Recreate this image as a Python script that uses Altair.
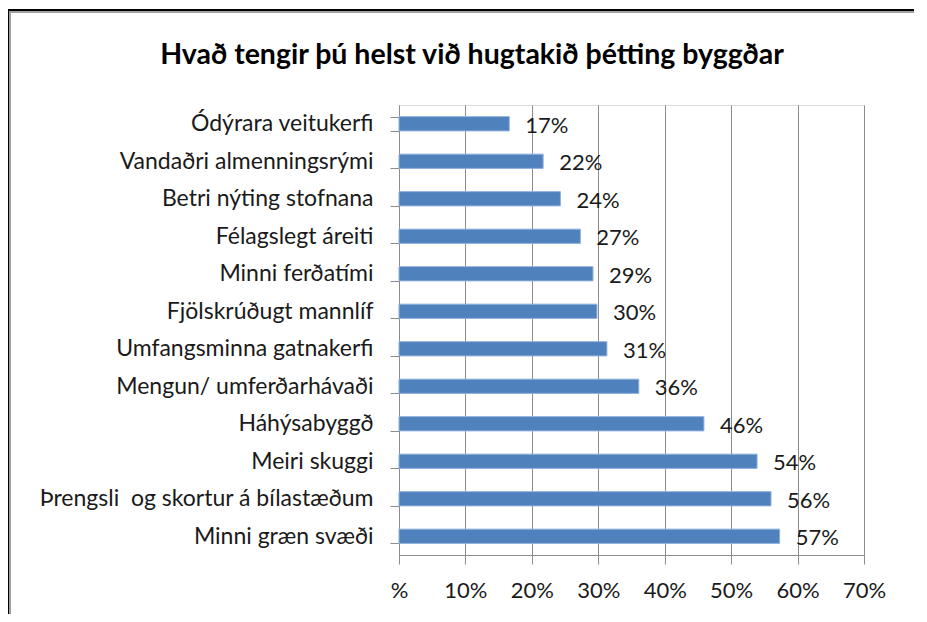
import altair as alt
import pandas as pd

categories = [
    "Ódýrara veitukerfi",
    "Vandaðri almenningsrými",
    "Betri nýting stofnana",
    "Félagslegt áreiti",
    "Minni ferðatími",
    "Fjölskrúðugt mannlíf",
    "Umfangsminna gatnakerfi",
    "Mengun/ umferðarhávaði",
    "Háhýsabyggð",
    "Meiri skuggi",
    "Þrengsli\u00a0 og skortur á bílastæðum",
    "Minni græn svæði",
]
values = [16.6, 21.7, 24.3, 27.3, 29.2, 29.8, 31.3, 36.1, 45.9, 53.9, 56.0, 57.3]
value_labels = ["17%", "22%", "24%", "27%", "29%", "30%", "31%", "36%", "46%", "54%", "56%", "57%"]
x_ticks = [0, 10, 20, 30, 40, 50, 60, 70]
title_text = "Hvað tengir þú helst við hugtakið þétting byggðar"

df = pd.DataFrame({"cat": categories, "val": values, "lbl": value_labels})

FONT = "Lato"
W, H = 465, 450

y_enc = alt.Y(
    "cat:N",
    sort=categories,
    title=None,
    scale=alt.Scale(paddingInner=0.62, paddingOuter=0.31),
    axis=alt.Axis(
        tickBand="extent",
        tickSize=9,
        tickColor="#8c8c8c",
        domainColor="#8c8c8c",
        labelFont=FONT,
        labelFontSize=23,
        labelColor="#1a1a1a",
        labelPadding=17,
        labelLimit=420,
        grid=False,
    ),
)

x_enc = alt.X(
    "val:Q",
    title=None,
    scale=alt.Scale(domain=[0, 70], nice=False),
    axis=alt.Axis(
        values=x_ticks,
        labelExpr="datum.value == 0 ? '%' : datum.value + '%'",
        labelFlush=False,
        labelOverlap=False,
        tickSize=9,
        tickColor="#8c8c8c",
        domainColor="#8c8c8c",
        gridColor="#8c8c8c",
        gridWidth=1,
        labelFont=FONT,
        labelFontSize=22,
        labelColor="#1a1a1a",
        labelPadding=16,
    ),
)

base = alt.Chart(df)

bars = base.mark_bar(color="#4F81BD", stroke="#8FB0DC", strokeWidth=1).encode(
    x=x_enc, y=y_enc
)

texts = base.mark_text(
    align="left", baseline="middle", dx=16, dy=2,
    font=FONT, fontSize=22, color="#1a1a1a",
).encode(
    x=alt.X("val:Q"),
    y=alt.Y("cat:N", sort=categories),
    text="lbl:N",
)

frame_data = alt.Data(values=[{"a": 1}])
title_mark = alt.Chart(frame_data).mark_text(
    font=FONT, fontSize=28.5, fontWeight="bold", color="#000000",
    align="center", baseline="middle",
).encode(
    x=alt.value(73), y=alt.value(-50), text=alt.value(title_text)
)
left_black = alt.Chart(frame_data).mark_rule(color="#000000", strokeWidth=2).encode(
    x=alt.value(-391), y=alt.value(-96), y2=alt.value(530)
)
left_gray = alt.Chart(frame_data).mark_rule(color="#a0a0a0", strokeWidth=2).encode(
    x=alt.value(-389), y=alt.value(-94), y2=alt.value(530)
)
top_black = alt.Chart(frame_data).mark_rule(color="#000000", strokeWidth=2).encode(
    y=alt.value(-95), x=alt.value(-392), x2=alt.value(540)
)
top_gray = alt.Chart(frame_data).mark_rule(color="#a0a0a0", strokeWidth=2).encode(
    y=alt.value(-93), x=alt.value(-390), x2=alt.value(540)
)

chart = (
    alt.layer(bars, texts, title_mark, left_black, left_gray, top_black, top_gray)
    .properties(
        width=W,
        height=H,
        padding={"left": 391, "top": 97, "right": 50, "bottom": 59},
        autosize=alt.AutoSizeParams(type="none"),
    )
    .configure_view(stroke=None)
    .configure(background="white")
)

chart.save("out.html", embed_options={"renderer": "svg", "actions": False})
